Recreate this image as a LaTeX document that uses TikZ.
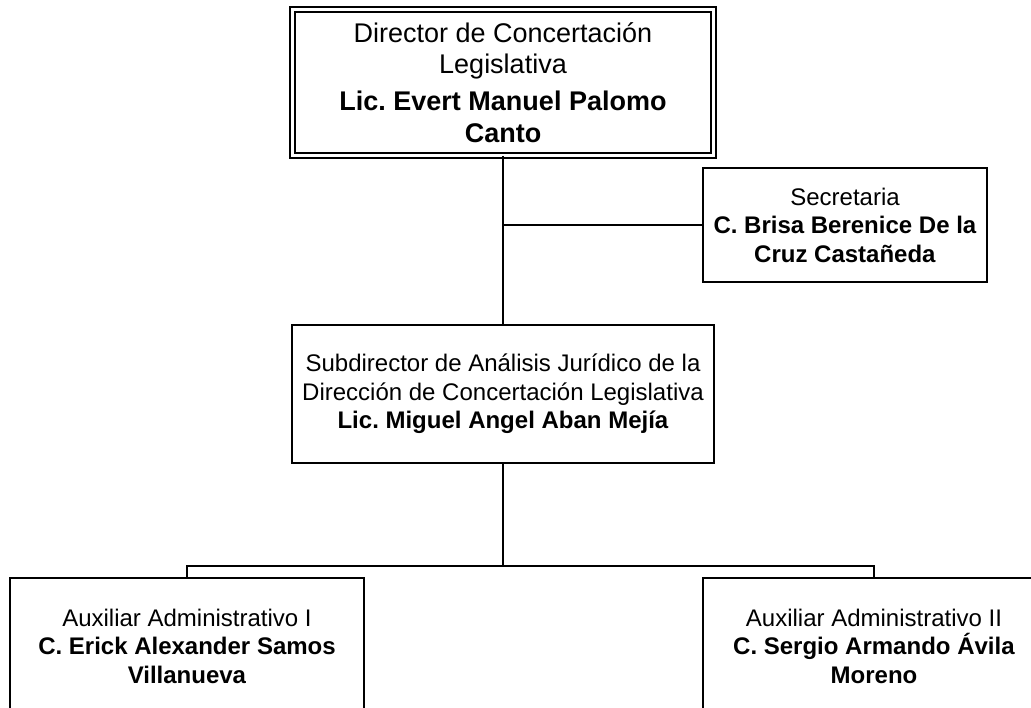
\documentclass[tikz,border=0pt]{standalone}
\usepackage{fontspec}
\setmainfont{Liberation Sans}
\frenchspacing
\begin{document}
\begin{tikzpicture}[x=1pt,y=-1pt,
  box/.style={draw=black, line width=1.6pt, inner sep=0pt, align=center,
    font=\fontsize{24}{28.5}\selectfont},
  dirbox/.style={draw=black, double=white, line width=1.5pt, double distance=3.5pt,
    inner sep=0pt, align=center, font=\fontsize{27}{31.5}\selectfont},
  link/.style={draw=black, line width=1.6pt}]
\useasboundingbox (0,0) rectangle (1031,708);
\clip (0,0) rectangle (1031,708);
\fill[white] (0,0) rectangle (1031,708);

\node[dirbox, minimum width=421pt, minimum height=146pt] (dir) at (503,82.5)
  {Director de Concertación\\Legislativa\\[5.5pt]\textbf{Lic. Evert Manuel Palomo}\\\textbf{Canto}};

\node[box, minimum width=284pt, minimum height=114pt] (sec) at (845,225)
  {Secretaria\\\textbf{C. Brisa Berenice De la}\\\textbf{Cruz Castañeda}};

\node[box, minimum width=422pt, minimum height=138pt] (sub) at (503,394)
  {Subdirector de Análisis Jurídico de la\\Dirección de Concertación Legislativa\\\textbf{Lic. Miguel Angel Aban Mejía}};

\node[box, minimum width=354pt, minimum height=136pt] (aux1) at (187,646)
  {Auxiliar Administrativo I\\\textbf{C. Erick Alexander Samos}\\\textbf{Villanueva}};

\node[box, minimum width=342pt, minimum height=136pt] (aux2) at (874,646)
  {Auxiliar Administrativo II\\\textbf{C. Sergio Armando Ávila}\\\textbf{Moreno}};

\coordinate (bar) at (503,566);

\draw[link] (dir.south) -- (dir.south |- sub.north);
\draw[link] (sec.west) -- (sec.west -| dir.south);
\draw[link] (sub.south) -- (bar);
\draw[link] (aux1.north) -- (aux1.north |- bar) -- (aux2.north |- bar) -- (aux2.north);
\end{tikzpicture}
\end{document}
